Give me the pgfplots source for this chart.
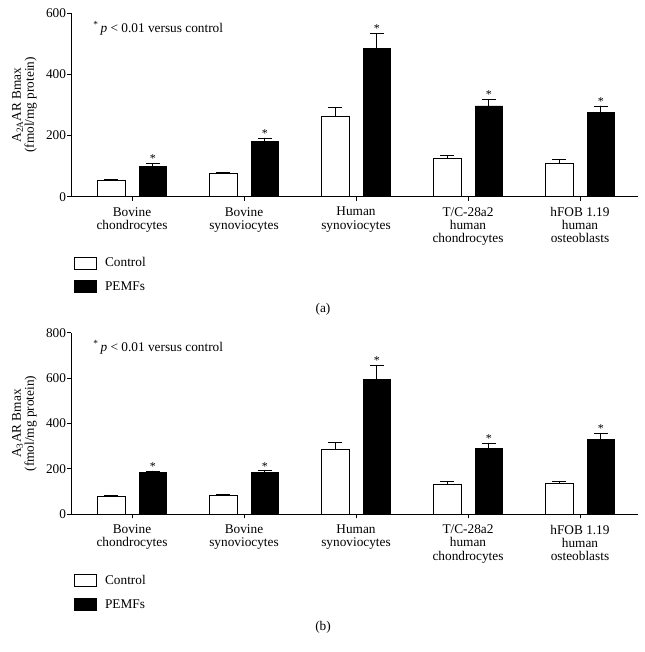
\documentclass[border=0pt]{standalone}
\usepackage{fontspec}
\setmainfont{Liberation Serif}
\usepackage{pgfplots}
\usepackage{pgfplotstable}
\pgfplotsset{compat=1.18}
\newcommand\ff{\fontsize{13.3bp}{13.2bp}\selectfont}

% panel (a): A2A AR Bmax
\pgfplotstableread{
x ctrl ctrlerr pemf pemferr
0 54 4 100 8
1 76 5 180 12
2 264 28 484 50
3 126 10 297 21
4 110 11 275 22
}\dataA
% panel (b): A3 AR Bmax
\pgfplotstableread{
x ctrl ctrlerr pemf pemferr
0 79 4 184 7
1 84 4 186 6
2 286 29 595 62
3 131 12 290 24
4 136 11 330 27
}\dataB

\pgfplotsset{
  panel/.style={
    scale only axis, width=567bp,
    xmin=-0.545, xmax=4.518, ymin=0,
    axis x line*=bottom, axis y line*=left,
    xtick={0,1,2,3,4},
    xticklabels={{Bovine\\chondrocytes},{Bovine\\synoviocytes},{Human\\synoviocytes},{T/C-28a2\\human\\chondrocytes},{hFOB 1.19\\human\\osteoblasts}},
    xticklabel style={align=center, font=\ff, yshift=-3bp},
    yticklabel style={font=\ff, xshift=2.5bp},
    tick align=outside, major tick length=4bp,
    tick style={black, line width=0.8bp},
    axis line style={black, line width=0.8bp},
    /pgf/number format/assume math mode=true,
    ylabel style={font=\ff, align=center, at={(axis description cs:-0.054,0.5)}, anchor=south},
    legend style={draw=none, fill=none, inner sep=0pt, outer sep=0pt,
      at={(axis description cs:0,0)}, anchor=north west, xshift=3.3bp, yshift=-60bp,
      row sep=11bp, font=\ff, nodes={inner sep=0pt}},
    legend cell align=left,
    clip=false,
  },
  barbase/.style={ybar, bar width=0.247, bar shift=0pt, draw=black, line width=0.8bp,
    legend image code/.code={\draw[##1, line width=0.8bp] (0bp,-6bp) rectangle (22bp,6bp); \path (30bp,0bp);},
    /pgfplots/error bars/y dir=plus, /pgfplots/error bars/y explicit,
    /pgfplots/error bars/error bar style={black, line width=0.8bp},
    /pgfplots/error bars/error mark options={black, rotate=90, mark size=7bp, line width=0.8bp}},
  star/.style={only marks, mark=*, mark size=0.01pt, mark options={draw=none, fill=none}, forget plot,
    nodes near coords={*}, nodes near coords style={font=\fontsize{12bp}{12bp}\selectfont, anchor=south, inner sep=0.5bp}},
}

\begin{document}
\begin{tikzpicture}
\useasboundingbox (0,0) rectangle (645bp,652bp);

\begin{axis}[panel, at={(71bp,455.3bp)}, anchor=south west, height=183.4bp,
  ymax=600, ytick={0,200,400,600},
  ylabel={A\textsubscript{2A}AR Bmax\\(fmol/mg protein)}]
\addplot[barbase, fill=white] table[x expr=\thisrow{x}-0.186, y=ctrl, y error=ctrlerr] {\dataA};
\addlegendentry{Control}
\addplot[barbase, fill=black] table[x expr=\thisrow{x}+0.186, y=pemf, y error=pemferr] {\dataA};
\addlegendentry{PEMFs}
\addplot[star] table[x expr=\thisrow{x}+0.186, y expr=\thisrow{pemf}+\thisrow{pemferr}] {\dataA};
\node[anchor=base west, font=\ff, inner sep=0pt] at (axis description cs:0.039,0.894) {\textsuperscript{*}\,\textit{p} < 0.01 versus control};
\end{axis}

\begin{axis}[panel, at={(71bp,137.7bp)}, anchor=south west, height=181.6bp,
  ymax=800, ytick={0,200,400,600,800},
  ylabel={A\textsubscript{3}AR Bmax\\(fmol/mg protein)}]
\addplot[barbase, fill=white] table[x expr=\thisrow{x}-0.186, y=ctrl, y error=ctrlerr] {\dataB};
\addlegendentry{Control}
\addplot[barbase, fill=black] table[x expr=\thisrow{x}+0.186, y=pemf, y error=pemferr] {\dataB};
\addlegendentry{PEMFs}
\addplot[star] table[x expr=\thisrow{x}+0.186, y expr=\thisrow{pemf}+\thisrow{pemferr}] {\dataB};
\node[anchor=base west, font=\ff, inner sep=0pt] at (axis description cs:0.039,0.894) {\textsuperscript{*}\,\textit{p} < 0.01 versus control};
\end{axis}

\node[font=\ff] at (323bp,343bp) {(a)};
\node[font=\ff] at (323bp,25bp) {(b)};
\end{tikzpicture}
\end{document}
